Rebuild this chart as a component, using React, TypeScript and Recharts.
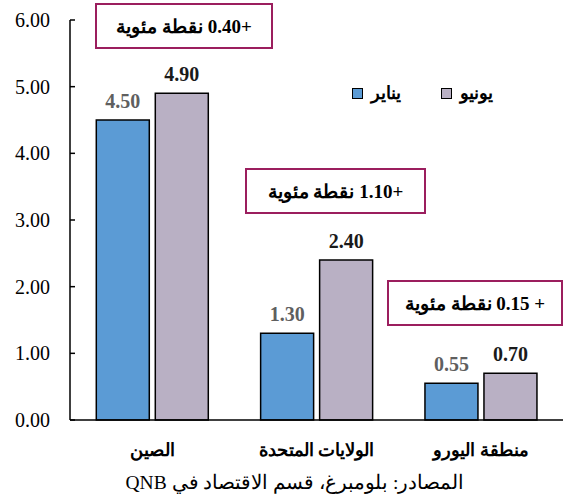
import React from "react";
import { BarChart, Bar, XAxis, YAxis, LabelList } from "recharts";

const regions = ["الصين", "الولايات المتحدة", "منطقة اليورو"];
const january = [4.5, 1.3, 0.55];
const june = [4.9, 2.4, 0.7];
const yTicks = [0, 1, 2, 3, 4, 5, 6];
const changeNotes = ["+0.40 نقطة مئوية", "+1.10 نقطة مئوية", "+ 0.15 نقطة مئوية"];
const seriesNames = { jan: "يناير", jun: "يونيو" };
const sourceText = "المصادر: بلومبرغ، قسم الاقتصاد في QNB";

const data = regions.map((name, i) => ({ name, jan: january[i], jun: june[i] }));

const BLUE = "#5B9BD5";
const PURPLE = "#B9B0C4";
const MAROON = "#9B1E5E";
const SERIF = "'Liberation Serif', 'Times New Roman', 'DejaVu Serif', serif";

function YTick(props: any) {
  const { x, y, payload } = props;
  return (
    <g>
      <line x1={x + 20} x2={x + 25} y1={y} y2={y} stroke="#000" strokeWidth={1.5} />
      <text x={x} y={y} dy={7} textAnchor="end" fontSize={20} fontFamily={SERIF} fill="#000">
        {Number(payload.value).toFixed(2)}
      </text>
    </g>
  );
}

function XTick(props: any) {
  const { x, y, payload } = props;
  return (
    <text x={x} y={y} dy={34} textAnchor="middle" fontSize={18} fontWeight="bold" fontFamily={SERIF} fill="#000">
      {payload.value}
    </text>
  );
}

const noteBoxes = [
  { left: 95, top: 3, width: 178 },
  { left: 245, top: 168, width: 181 },
  { left: 387, top: 280, width: 176 },
];

export default function App() {
  return (
    <div
      style={{
        position: "absolute",
        left: 0,
        top: 0,
        width: 565,
        height: 499,
        background: "#fff",
        fontFamily: SERIF,
      }}
    >
      <BarChart
        width={565}
        height={499}
        data={data}
        margin={{ top: 20, right: 2, bottom: 49, left: 0 }}
        barCategoryGap="16%"
        barGap={6}
      >
        <YAxis
          width={70}
          domain={[0, 6]}
          ticks={yTicks}
          interval={0}
          tickSize={0}
          tickMargin={20}
          tickLine={false}
          axisLine={{ stroke: "#000", strokeWidth: 1.5 }}
          tick={<YTick />}
        />
        <XAxis
          dataKey="name"
          height={30}
          tickSize={0}
          tickLine={false}
          axisLine={{ stroke: "#000", strokeWidth: 1.5 }}
          tick={<XTick />}
        />
        <Bar dataKey="jan" fill={BLUE} stroke="#000" strokeWidth={1.5} isAnimationActive={false}>
          <LabelList
            dataKey="jan"
            position="top"
            offset={12}
            formatter={(v: any) => Number(v).toFixed(2)}
            style={{ fontSize: 20, fontWeight: "bold", fontFamily: SERIF, fill: "#5f5f5f" }}
          />
        </Bar>
        <Bar dataKey="jun" fill={PURPLE} stroke="#000" strokeWidth={1.5} isAnimationActive={false}>
          <LabelList
            dataKey="jun"
            position="top"
            offset={12}
            formatter={(v: any) => Number(v).toFixed(2)}
            style={{ fontSize: 20, fontWeight: "bold", fontFamily: SERIF, fill: "#1a1a1a" }}
          />
        </Bar>
      </BarChart>

      {changeNotes.map((note, i) => (
        <div
          key={note}
          dir="rtl"
          style={{
            position: "absolute",
            left: noteBoxes[i].left,
            top: noteBoxes[i].top,
            width: noteBoxes[i].width,
            height: 46,
            boxSizing: "border-box",
            border: `2px solid ${MAROON}`,
            background: "#fff",
            display: "flex",
            alignItems: "center",
            justifyContent: "center",
            fontSize: 19,
            fontWeight: "bold",
            color: "#000",
          }}
        >
          {note}
        </div>
      ))}

      <div
        style={{
          position: "absolute",
          left: 352,
          top: 82,
          display: "flex",
          alignItems: "center",
          fontSize: 18,
          fontWeight: "bold",
        }}
      >
        {[
          { color: BLUE, label: seriesNames.jan },
          { color: PURPLE, label: seriesNames.jun },
        ].map((s, i) => (
          <div key={s.label} style={{ display: "flex", alignItems: "center", marginLeft: i ? 40 : 0 }}>
            <span
              style={{
                width: 9,
                height: 9,
                background: s.color,
                border: "1.5px solid #000",
                display: "inline-block",
                marginRight: 8,
              }}
            />
            <span dir="rtl">{s.label}</span>
          </div>
        ))}
      </div>

      <div
        dir="rtl"
        style={{
          position: "absolute",
          left: 0,
          width: 590,
          top: 471,
          textAlign: "center",
          fontSize: 19.5,
          color: "#000",
        }}
      >
        {sourceText}
      </div>
    </div>
  );
}
